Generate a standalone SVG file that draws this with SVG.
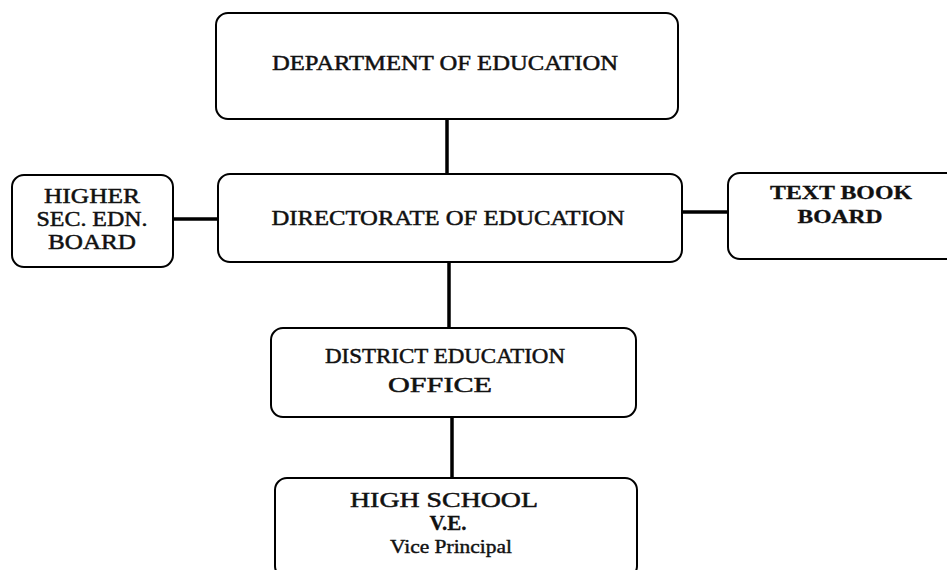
<svg xmlns="http://www.w3.org/2000/svg" width="947" height="570" viewBox="0 0 947 570">
<style>
.box{fill:#fff;stroke:#000;stroke-width:2}
.t{font-family:"Liberation Serif","Times New Roman",serif;font-size:22px;fill:#111;stroke:#111;stroke-width:0.5;text-anchor:middle}
.b{font-weight:bold;stroke-width:0.3}
.conn line{stroke:#000;stroke-width:3.5}
</style>
<rect width="947" height="570" fill="#fff"/>
<g id="connectors" class="conn">
<line x1="447" y1="119" x2="447" y2="174"/>
<line x1="173" y1="219" x2="218" y2="219"/>
<line x1="682" y1="212" x2="728" y2="212"/>
<line x1="449" y1="262" x2="449" y2="328"/>
<line x1="452" y1="417" x2="452" y2="478"/>
</g>
<g id="dept">
<rect class="box" x="216" y="13" width="462" height="106" rx="12"/>
<text class="t" x="445" y="70" textLength="346" lengthAdjust="spacingAndGlyphs">DEPARTMENT OF EDUCATION</text>
</g>
<g id="directorate">
<rect class="box" x="218" y="174" width="464" height="88" rx="12"/>
<text class="t" x="448" y="225" textLength="353" lengthAdjust="spacingAndGlyphs">DIRECTORATE OF EDUCATION</text>
</g>
<g id="higher">
<rect class="box" x="12" y="175" width="161" height="92" rx="12"/>
<text class="t" x="92" y="203" textLength="96" lengthAdjust="spacingAndGlyphs">HIGHER</text>
<text class="t" x="92" y="226" textLength="111" lengthAdjust="spacingAndGlyphs">SEC. EDN.</text>
<text class="t" x="92" y="249" textLength="88" lengthAdjust="spacingAndGlyphs">BOARD</text>
</g>
<g id="textbook">
<rect class="box" x="728" y="173" width="240" height="86" rx="12"/>
<text class="t b" x="841" y="199" style="font-size:19px" textLength="142" lengthAdjust="spacingAndGlyphs">TEXT BOOK</text>
<text class="t b" x="840" y="223" style="font-size:19px" textLength="85" lengthAdjust="spacingAndGlyphs">BOARD</text>
</g>
<g id="district">
<rect class="box" x="271" y="328" width="365" height="89" rx="12"/>
<text class="t" x="445" y="363" textLength="240" lengthAdjust="spacingAndGlyphs">DISTRICT EDUCATION</text>
<text class="t" x="440" y="392" textLength="104" lengthAdjust="spacingAndGlyphs">OFFICE</text>
</g>
<g id="highschool">
<rect class="box" x="275" y="478" width="362" height="100" rx="12"/>
<text class="t" x="444" y="507" textLength="188" lengthAdjust="spacingAndGlyphs">HIGH SCHOOL</text>
<text class="t b" x="448" y="530" textLength="37" lengthAdjust="spacingAndGlyphs">V.E.</text>
<text class="t" x="451" y="553" style="font-size:18px;stroke-width:0.4" textLength="122" lengthAdjust="spacingAndGlyphs">Vice Principal</text>
</g>
</svg>
